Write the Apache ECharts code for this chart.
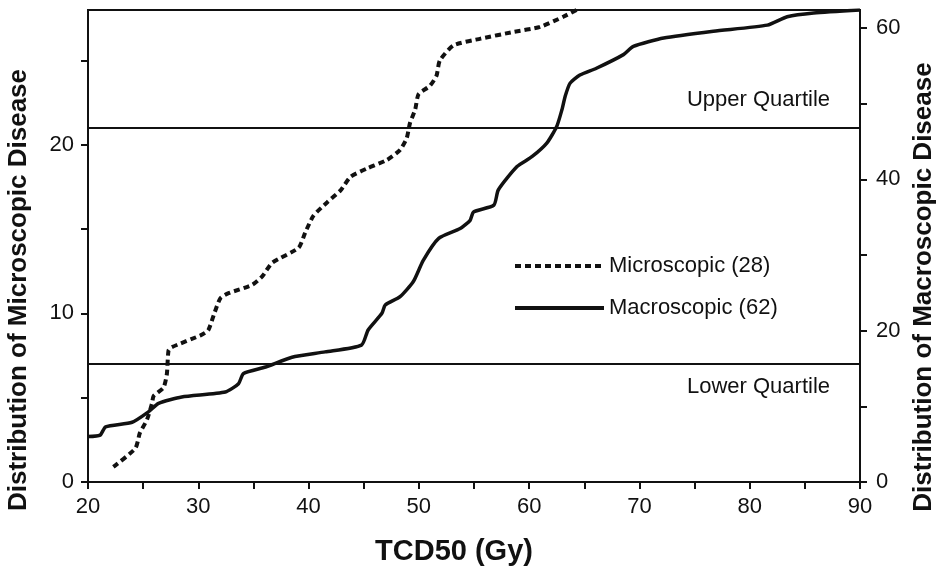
<!DOCTYPE html>
<html>
<head>
<meta charset="utf-8">
<script src="https://cdn.jsdelivr.net/npm/echarts@6/dist/echarts.min.js"></script>
<style>
  html, body { margin: 0; padding: 0; background: #fff; }
  #chart { width: 937px; height: 571px; }
</style>
</head>
<body>
<div id="chart"></div>
<script>
// microscopic disease, cumulative count vs TCD50 (left axis)
const microDose = [22.3, 24.3, 24.7, 25.35, 25.8, 25.95, 26.85, 27.15, 27.3, 27.6, 30.2, 30.9, 31.4, 32.0, 32.75, 34.9, 35.8, 36.7, 39.1, 39.7, 40.45, 41.7, 42.9, 43.8, 45.3, 47.1, 48.3, 48.9, 49.2, 49.67, 49.97, 51.0, 51.6, 51.9, 53.15, 55.6, 58.6, 61.0, 63.1, 64.3]
const microCount = [0.9, 2.0, 2.9, 3.7, 4.65, 5.1, 5.6, 6.4, 7.8, 8.0, 8.7, 9.0, 9.9, 10.9, 11.2, 11.7, 12.2, 13.0, 13.9, 14.8, 15.8, 16.6, 17.3, 18.1, 18.6, 19.1, 19.7, 20.4, 21.3, 22.1, 23.0, 23.5, 24.1, 25.0, 25.9, 26.3, 26.7, 27.0, 27.6, 28.0]

// macroscopic disease (right axis)
const macroDose = [20.0, 21.1, 21.6, 24.0, 25.5, 26.4, 28.5, 32.45, 33.65, 34.1, 36.1, 38.5, 41.5, 44.8, 45.4, 46.65, 46.95, 48.3, 49.5, 50.4, 51.8, 53.75, 54.65, 54.96, 56.8, 57.2, 58.9, 60.25, 61.6, 62.5, 62.97, 63.27, 63.7, 64.6, 66.1, 68.55, 69.45, 72.2, 76.7, 81.6, 83.4, 85.8, 90.0]
const macroCount = [6.0, 6.2, 7.3, 7.9, 9.3, 10.4, 11.25, 11.9, 13.0, 14.35, 15.2, 16.5, 17.2, 18.1, 20.1, 22.3, 23.4, 24.5, 26.5, 29.3, 32.2, 33.5, 34.6, 35.7, 36.6, 38.6, 41.7, 43.0, 44.8, 47.0, 49.2, 51.0, 52.7, 53.8, 54.7, 56.5, 57.6, 58.7, 59.6, 60.4, 61.5, 62.0, 62.4]

const quartileNames = ['Upper Quartile', 'Lower Quartile']
const quartileLevels = [21, 7]

const xLabels = [20, 30, 40, 50, 60, 70, 80, 90]
const xTicks = [20, 25, 30, 35, 40, 45, 50, 55, 60, 65, 70, 75, 80, 85, 90]
const leftLabels = [0, 10, 20]
const leftTicks = [0, 5, 10, 15, 20, 25]
const rightLabels = [0, 20, 40, 60]
const rightTicks = [0, 10, 20, 30, 40, 50, 60]

const FONT = '"Liberation Sans", Arial, Helvetica, sans-serif'
const INK = '#111'

const chart = echarts.init(document.getElementById('chart'))

const zip = (xs, ys) => xs.map((x, i) => [x, ys[i]])

const axisCommon = {
  axisLine: { show: true, lineStyle: { color: INK, width: 2 } },
  axisTick: { show: true, inside: false, length: 7, lineStyle: { color: INK, width: 2 } },
  axisLabel: { color: INK, fontSize: 22, fontFamily: FONT, margin: 14 },
  splitLine: { show: false },
}

const option = {
  backgroundColor: '#fff',
  animation: false,
  grid: {
    left: 88, right: 77, top: 10, bottom: 89,
    show: true, borderColor: INK, borderWidth: 2,
  },
  legend: {
    orient: 'vertical',
    left: 508,
    top: 250,
    itemWidth: 89,
    itemHeight: 4,
    itemGap: 20,
    itemStyle: { opacity: 0 },
    lineStyle: { width: 4 },
    textStyle: { color: INK, fontSize: 22, fontFamily: FONT },
    data: ['Microscopic (28)', 'Macroscopic (62)'],
  },
  xAxis: {
    type: 'value',
    min: 20, max: 90, interval: 10,
    ...axisCommon,
    axisTick: { ...axisCommon.axisTick, customValues: xTicks },
    axisLabel: { ...axisCommon.axisLabel, customValues: xLabels },
  },
  yAxis: [
    {
      type: 'value',
      min: 0, max: 28, interval: 10,
      position: 'left',
      ...axisCommon,
      axisTick: { ...axisCommon.axisTick, customValues: leftTicks },
      axisLabel: { ...axisCommon.axisLabel, customValues: leftLabels },
    },
    {
      type: 'value',
      min: 0, max: 62.4, interval: 20,
      position: 'right',
      ...axisCommon,
      axisTick: { ...axisCommon.axisTick, customValues: rightTicks },
      axisLabel: { ...axisCommon.axisLabel, margin: 16, customValues: rightLabels },
    },
  ],
  graphic: [
    {
      type: 'text', x: 19, y: 290, rotation: Math.PI / 2,
      style: { text: 'Distribution of Microscopic Disease', font: 'bold 26px ' + FONT, fill: INK, align: 'center', verticalAlign: 'middle' },
    },
    {
      type: 'text', x: 924, y: 287, rotation: Math.PI / 2,
      style: { text: 'Distribution of Macroscopic Disease', font: 'bold 26px ' + FONT, fill: INK, align: 'center', verticalAlign: 'middle' },
    },
    {
      type: 'text', x: 454, y: 552,
      style: { text: 'TCD50 (Gy)', font: 'bold 29px ' + FONT, fill: INK, align: 'center', verticalAlign: 'middle' },
    },
  ],
  series: [
    {
      name: 'Microscopic (28)',
      type: 'line',
      yAxisIndex: 0,
      data: zip(microDose, microCount),
      symbol: 'none',
      smooth: 0.2,
      lineStyle: { color: INK, width: 4, type: [6, 4] },
      itemStyle: { color: INK },
      markLine: {
        silent: true,
        symbol: ['none', 'none'],
        lineStyle: { color: INK, width: 2, type: 'solid' },
        label: { formatter: '{b}', color: INK, fontSize: 22, fontFamily: FONT },
        data: [
          { name: quartileNames[0], yAxis: quartileLevels[0], label: { position: 'insideEndTop', distance: [30, 17] } },
          { name: quartileNames[1], yAxis: quartileLevels[1], label: { position: 'insideEndBottom', distance: [30, 12] } },
        ],
      },
    },
    {
      name: 'Macroscopic (62)',
      type: 'line',
      yAxisIndex: 1,
      data: zip(macroDose, macroCount),
      symbol: 'none',
      smooth: 0.2,
      lineStyle: { color: INK, width: 3.5 },
      itemStyle: { color: INK },
    },
  ],
}

chart.setOption(option)
</script>
</body>
</html>
